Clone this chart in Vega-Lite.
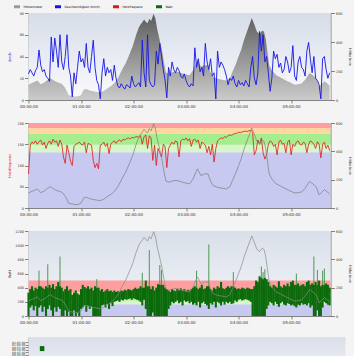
{
"$schema": "https://vega.github.io/schema/vega-lite/v6.json",
"background": "#f4f4f4",
"padding": {"left": 7.5, "top": 2, "right": 2, "bottom": 0},
"spacing": 13,
"columns": 1,
"config": {
  "view": {"stroke": null},
  "font": "DejaVu Sans",
  "axis": {"labelFontSize": 3.4, "titleFontSize": 3.5, "tickSize": 4, "labelPadding": 1, "domainColor": "#666", "tickColor": "#666", "labelColor": "#333", "titleColor": "#333", "titleFontWeight": "normal", "grid": false, "domainWidth": 0.8, "tickWidth": 0.8}
},
"datasets": {
  "ts": [
{"t":0,"s":24,"h":80,"lo":0,"hi":330},{"t":2,"s":28,"h":148,"lo":120,"hi":380},{"t":4,"s":25,"h":155,"lo":150,"hi":420},{"t":6,"s":22,"h":152,"lo":80,"hi":360},{"t":8,"s":27,"h":158,"lo":140,"hi":400},{"t":10,"s":30,"h":150,"lo":0,"hi":380},{"t":12,"s":46,"h":156,"lo":120,"hi":420,"pk":640},{"t":14,"s":32,"h":160,"lo":150,"hi":420},{"t":16,"s":26,"h":148,"lo":60,"hi":400},{"t":18,"s":28,"h":155,"lo":130,"hi":380},
{"t":20,"s":22,"h":140,"lo":0,"hi":420},{"t":22,"s":20,"h":152,"lo":100,"hi":400,"pk":730},{"t":24,"s":17,"h":158,"lo":150,"hi":440},{"t":26,"s":58,"h":150,"lo":80,"hi":400},{"t":28,"s":35,"h":162,"lo":0,"hi":450},{"t":30,"s":57,"h":155,"lo":120,"hi":380},{"t":32,"s":45,"h":158,"lo":60,"hi":420},{"t":34,"s":30,"h":145,"lo":130,"hi":480},{"t":36,"s":60,"h":160,"lo":100,"hi":420,"pk":840},{"t":38,"s":35,"h":150,"lo":0,"hi":400},
{"t":40,"s":28,"h":120,"lo":0,"hi":350},{"t":42,"s":40,"h":105,"lo":80,"hi":380},{"t":44,"s":60,"h":148,"lo":0,"hi":420},{"t":46,"s":30,"h":130,"lo":60,"hi":360},{"t":48,"s":22,"h":110,"lo":0,"hi":380},{"t":50,"s":3,"h":100,"lo":0,"hi":300},{"t":52,"s":25,"h":145,"lo":80,"hi":330},{"t":54,"s":15,"h":150,"lo":0,"hi":360},{"t":56,"s":30,"h":152,"lo":40,"hi":320},{"t":58,"s":45,"h":155,"lo":0,"hi":300},
{"t":60,"s":35,"h":150,"lo":100,"hi":380},{"t":62,"s":38,"h":148,"lo":120,"hi":440},{"t":64,"s":30,"h":155,"lo":150,"hi":410},{"t":66,"s":52,"h":130,"lo":60,"hi":390},{"t":68,"s":30,"h":152,"lo":140,"hi":420},{"t":70,"s":25,"h":150,"lo":100,"hi":380},{"t":72,"s":40,"h":148,"lo":130,"hi":400},{"t":74,"s":55,"h":112,"lo":0,"hi":360},{"t":76,"s":30,"h":95,"lo":0,"hi":420},{"t":78,"s":18,"h":105,"lo":0,"hi":400,"pk":520},
{"t":80,"s":14,"h":92,"lo":0,"hi":400},{"t":82,"s":1,"h":148,"lo":0,"hi":360},{"t":84,"s":25,"h":150,"lo":150,"hi":380},{"t":86,"s":38,"h":155,"lo":160,"hi":340},{"t":88,"s":22,"h":145,"lo":120,"hi":360},{"t":90,"s":30,"h":152,"lo":170,"hi":380},{"t":92,"s":25,"h":128,"lo":100,"hi":350},{"t":94,"s":28,"h":150,"lo":180,"hi":360},{"t":96,"s":18,"h":155,"lo":140,"hi":340},{"t":98,"s":32,"h":158,"lo":200,"hi":360},
{"t":100,"s":20,"h":152,"lo":210,"hi":340},{"t":102,"s":13,"h":158,"lo":220,"hi":350},{"t":104,"s":11,"h":160,"lo":200,"hi":340},{"t":106,"s":15,"h":156,"lo":230,"hi":360},{"t":108,"s":12,"h":162,"lo":220,"hi":350},{"t":110,"s":10,"h":160,"lo":240,"hi":370},{"t":112,"s":14,"h":163,"lo":230,"hi":360},{"t":114,"s":13,"h":165,"lo":240,"hi":380},{"t":116,"s":11,"h":162,"lo":250,"hi":370},{"t":118,"s":22,"h":166,"lo":230,"hi":360},
{"t":120,"s":15,"h":165,"lo":250,"hi":380},{"t":122,"s":12,"h":167,"lo":240,"hi":400},{"t":124,"s":14,"h":168,"lo":230,"hi":380},{"t":126,"s":16,"h":166,"lo":220,"hi":390},{"t":128,"s":12,"h":170,"lo":200,"hi":420},{"t":130,"s":55,"h":150,"lo":150,"hi":400,"pk":610},{"t":132,"s":25,"h":168,"lo":230,"hi":400},{"t":134,"s":12,"h":172,"lo":100,"hi":500},{"t":136,"s":60,"h":140,"lo":0,"hi":420},{"t":138,"s":18,"h":170,"lo":0,"hi":420,"pk":930},
{"t":140,"s":14,"h":165,"lo":0,"hi":380},{"t":142,"s":12,"h":112,"lo":50,"hi":420},{"t":144,"s":14,"h":148,"lo":0,"hi":360},{"t":146,"s":45,"h":100,"lo":0,"hi":400},{"t":148,"s":33,"h":140,"lo":0,"hi":450},{"t":150,"s":52,"h":130,"lo":0,"hi":440,"pk":720},{"t":152,"s":40,"h":120,"lo":0,"hi":440,"pk":650},{"t":154,"s":28,"h":150,"lo":0,"hi":440},{"t":156,"s":18,"h":145,"lo":0,"hi":400},{"t":158,"s":2,"h":95,"lo":0,"hi":380},
{"t":160,"s":30,"h":140,"lo":100,"hi":360},{"t":162,"s":22,"h":148,"lo":150,"hi":340},{"t":164,"s":35,"h":155,"lo":200,"hi":380},{"t":166,"s":28,"h":150,"lo":180,"hi":360},{"t":168,"s":25,"h":158,"lo":200,"hi":350},{"t":170,"s":30,"h":155,"lo":220,"hi":380},{"t":172,"s":27,"h":120,"lo":180,"hi":360},{"t":174,"s":22,"h":158,"lo":200,"hi":390},{"t":176,"s":20,"h":162,"lo":150,"hi":360},{"t":178,"s":24,"h":160,"lo":220,"hi":380},
{"t":180,"s":18,"h":165,"lo":200,"hi":350},{"t":182,"s":14,"h":158,"lo":210,"hi":370},{"t":184,"s":12,"h":163,"lo":180,"hi":360},{"t":186,"s":15,"h":145,"lo":200,"hi":380},{"t":188,"s":13,"h":160,"lo":160,"hi":400},{"t":190,"s":48,"h":162,"lo":180,"hi":420},{"t":192,"s":30,"h":155,"lo":150,"hi":400,"pk":640},{"t":194,"s":38,"h":160,"lo":200,"hi":380},{"t":196,"s":26,"h":140,"lo":120,"hi":400},{"t":198,"s":30,"h":155,"lo":180,"hi":440},
{"t":200,"s":22,"h":152,"lo":200,"hi":380},{"t":202,"s":52,"h":148,"lo":170,"hi":390},{"t":204,"s":35,"h":130,"lo":150,"hi":420},{"t":206,"s":28,"h":145,"lo":100,"hi":420,"pk":1010},{"t":208,"s":38,"h":125,"lo":180,"hi":380},{"t":210,"s":22,"h":150,"lo":160,"hi":360},{"t":212,"s":25,"h":108,"lo":200,"hi":400},{"t":214,"s":1,"h":140,"lo":120,"hi":380},{"t":216,"s":45,"h":158,"lo":200,"hi":420},{"t":218,"s":30,"h":162,"lo":180,"hi":400},
{"t":220,"s":35,"h":165,"lo":150,"hi":480},{"t":222,"s":32,"h":163,"lo":200,"hi":390},{"t":224,"s":28,"h":168,"lo":160,"hi":380},{"t":226,"s":22,"h":166,"lo":200,"hi":400},{"t":228,"s":14,"h":170,"lo":180,"hi":420},{"t":230,"s":20,"h":172,"lo":200,"hi":400},{"t":232,"s":18,"h":171,"lo":170,"hi":420},{"t":234,"s":22,"h":174,"lo":180,"hi":420,"pk":620},{"t":236,"s":15,"h":175,"lo":220,"hi":400},{"t":238,"s":12,"h":176,"lo":200,"hi":380},
{"t":240,"s":18,"h":178,"lo":230,"hi":390},{"t":242,"s":14,"h":177,"lo":240,"hi":380},{"t":244,"s":16,"h":179,"lo":220,"hi":400},{"t":246,"s":13,"h":180,"lo":230,"hi":390},{"t":248,"s":18,"h":181,"lo":240,"hi":380},{"t":250,"s":15,"h":180,"lo":230,"hi":400},{"t":252,"s":12,"h":182,"lo":220,"hi":390},{"t":254,"s":30,"h":183,"lo":200,"hi":380},{"t":256,"s":40,"h":178,"lo":0,"hi":380},{"t":258,"s":20,"h":125,"lo":0,"hi":420},
{"t":260,"s":14,"h":135,"lo":0,"hi":500},{"t":262,"s":25,"h":160,"lo":0,"hi":480},{"t":264,"s":63,"h":150,"lo":0,"hi":560},{"t":266,"s":45,"h":165,"lo":0,"hi":540,"pk":700},{"t":268,"s":60,"h":130,"lo":0,"hi":520,"pk":620},{"t":270,"s":35,"h":115,"lo":0,"hi":540,"pk":660},{"t":272,"s":40,"h":125,"lo":100,"hi":520},{"t":274,"s":25,"h":150,"lo":150,"hi":480},{"t":276,"s":8,"h":158,"lo":200,"hi":420},{"t":278,"s":20,"h":155,"lo":180,"hi":400},
{"t":280,"s":45,"h":145,"lo":150,"hi":440},{"t":282,"s":38,"h":150,"lo":200,"hi":420},{"t":284,"s":42,"h":125,"lo":170,"hi":400},{"t":286,"s":30,"h":155,"lo":130,"hi":490},{"t":288,"s":34,"h":160,"lo":180,"hi":420},{"t":290,"s":25,"h":150,"lo":200,"hi":400},{"t":292,"s":28,"h":152,"lo":160,"hi":440},{"t":294,"s":40,"h":130,"lo":150,"hi":420},{"t":296,"s":35,"h":155,"lo":180,"hi":460},{"t":298,"s":25,"h":160,"lo":170,"hi":420},
{"t":300,"s":30,"h":125,"lo":150,"hi":480},{"t":302,"s":50,"h":150,"lo":160,"hi":500},{"t":304,"s":22,"h":145,"lo":140,"hi":440},{"t":306,"s":18,"h":155,"lo":120,"hi":440,"pk":600},{"t":308,"s":35,"h":158,"lo":160,"hi":460},{"t":310,"s":40,"h":150,"lo":150,"hi":420},{"t":312,"s":30,"h":148,"lo":180,"hi":440},{"t":314,"s":28,"h":155,"lo":160,"hi":450},{"t":316,"s":22,"h":152,"lo":170,"hi":420},{"t":318,"s":45,"h":130,"lo":150,"hi":480},
{"t":320,"s":53,"h":150,"lo":180,"hi":500},{"t":322,"s":38,"h":158,"lo":120,"hi":440},{"t":324,"s":25,"h":155,"lo":150,"hi":460},{"t":326,"s":40,"h":150,"lo":0,"hi":440,"pk":840},{"t":328,"s":20,"h":140,"lo":0,"hi":480},{"t":330,"s":18,"h":156,"lo":80,"hi":440,"pk":650},{"t":332,"s":14,"h":150,"lo":0,"hi":500},{"t":334,"s":1,"h":118,"lo":0,"hi":420},{"t":336,"s":38,"h":150,"lo":120,"hi":440,"pk":640},{"t":338,"s":40,"h":155,"lo":200,"hi":440,"pk":670},
{"t":340,"s":28,"h":140,"lo":180,"hi":460},{"t":342,"s":20,"h":148,"lo":160,"hi":440},{"t":344,"s":25,"h":135,"lo":150,"hi":400}
  ],
  "alt": [
{"t":0,"a":106},{"t":4,"a":118},{"t":8,"a":128},{"t":10,"a":135},{"t":14,"a":108},{"t":18,"a":120},{"t":22,"a":140},{"t":25,"a":151},{"t":28,"a":138},{"t":31,"a":127},{"t":35,"a":118},{"t":38,"a":112},{"t":42,"a":83},{"t":46,"a":33},{"t":50,"a":28},{"t":54,"a":24},{"t":57,"a":26},{"t":60,"a":35},{"t":63,"a":70},{"t":66,"a":76},{"t":70,"a":66},{"t":74,"a":60},{"t":78,"a":56},{"t":82,"a":52},{"t":86,"a":62},{"t":90,"a":80},{"t":95,"a":100},{"t":99,"a":123},{"t":103,"a":160},{"t":107,"a":210},{"t":111,"a":253},{"t":115,"a":310},{"t":119,"a":370},{"t":123,"a":450},{"t":126,"a":500},{"t":128,"a":520},{"t":130,"a":536},{"t":132,"a":555},{"t":134,"a":540},{"t":136,"a":530},{"t":138,"a":560},{"t":140,"a":545},{"t":143,"a":595},{"t":145,"a":560},{"t":147,"a":489},{"t":150,"a":410},{"t":153,"a":324},{"t":155,"a":250},{"t":157,"a":190},{"t":161,"a":182},{"t":166,"a":194},{"t":170,"a":194},{"t":176,"a":182},{"t":180,"a":176},{"t":184,"a":170},{"t":188,"a":205},{"t":191,"a":250},{"t":193,"a":276},{"t":197,"a":229},{"t":201,"a":240},{"t":205,"a":241},{"t":208,"a":190},{"t":211,"a":158},{"t":216,"a":146},{"t":221,"a":140},{"t":226,"a":135},{"t":230,"a":150},{"t":233,"a":194},{"t":237,"a":250},{"t":240,"a":300},{"t":243,"a":347},{"t":246,"a":410},{"t":250,"a":480},{"t":253,"a":530},{"t":255,"a":565},{"t":258,"a":520},{"t":261,"a":470},{"t":264,"a":455},{"t":267,"a":480},{"t":269,"a":470},{"t":271,"a":420},{"t":273,"a":330},{"t":275,"a":240},{"t":278,"a":205},{"t":283,"a":170},{"t":288,"a":155},{"t":294,"a":135},{"t":299,"a":120},{"t":304,"a":106},{"t":308,"a":108},{"t":312,"a":113},{"t":316,"a":140},{"t":321,"a":187},{"t":325,"a":170},{"t":329,"a":146},{"t":332,"a":92},{"t":335,"a":110},{"t":338,"a":130},{"t":341,"a":115},{"t":344,"a":99}
  ],
  "hrz": [{"z":"Z1","lo":0,"hi":131},{"z":"Z2","lo":131,"hi":149},{"z":"Z3","lo":149,"hi":175},{"z":"Z4","lo":175,"hi":188},{"z":"Z5","lo":188,"hi":200}],
  "wz": [{"z":"Z1","lo":0,"hi":165},{"z":"Z2","lo":165,"hi":220},{"z":"Z3","lo":220,"hi":280},{"z":"Z4","lo":280,"hi":340},{"z":"Z5","lo":340,"hi":500}],
  "bars": [{"k":2.5,"k2":3.5,"m":52}]
},
"concat": [
  {
    "width": 302, "height": 87,
    "layer": [
      {"data": {"values": [{}]}, "mark": {"type": "rect", "color": {"gradient": "linear", "x1": 0, "y1": 0, "x2": 0, "y2": 1, "stops": [{"offset": 0, "color": "#d6dce8"}, {"offset": 1, "color": "#fbfbfd"}]}}, "encoding": {}},
      {"data": {"name": "alt"}, "mark": {"type": "area", "color": {"gradient": "linear", "x1": 0, "y1": 0, "x2": 0, "y2": 1, "stops": [{"offset": 0, "color": "#5c5c5c"}, {"offset": 1, "color": "#cbcbcb"}]}},
       "encoding": {
         "x": {"field": "t", "type": "quantitative", "scale": {"domain": [0, 345], "nice": false}, "axis": {"values": [0, 60, 120, 180, 240, 300], "labelExpr": "'0' + (datum.value/60) + ':00:00'", "title": null, "labelFontSize": 4, "tickSize": 3, "labelPadding": 1, "labelFlush": false}},
         "y": {"field": "a", "type": "quantitative", "scale": {"domain": [0, 600], "nice": false}, "axis": {"orient": "right", "values": [0, 200, 400, 600], "title": "Höhe in m", "titleAngle": 90, "minExtent": 14, "maxExtent": 14, "titlePadding": 3}}
       }},
      {"data": {"name": "ts"}, "mark": {"type": "line", "strokeWidth": 0.9},
       "encoding": {
         "x": {"field": "t", "type": "quantitative", "scale": {"domain": [0, 345], "nice": false}, "axis": {"values": [0, 60, 120, 180, 240, 300], "labelExpr": "'0' + (datum.value/60) + ':00:00'", "title": null, "labelFontSize": 4, "tickSize": 3, "labelPadding": 1, "labelFlush": false}},
         "y": {"field": "s", "type": "quantitative", "scale": {"domain": [0, 80], "nice": false}, "axis": {"values": [0, 20, 40, 60, 80], "title": "km/h", "titleColor": "#2b2bd6", "minExtent": 15, "maxExtent": 15, "titlePadding": 2}},
         "color": {"datum": "Geschwindigkeit (km/h)", "type": "nominal", "scale": {"domain": ["Höhenmeter", "Geschwindigkeit (km/h)", "Herzfrequenz", "Watt"], "range": ["#9a9a9a", "#1414e6", "#e01818", "#0b6b0b"]}, "legend": {"title": null, "orient": "none", "legendX": -16, "legendY": -11, "direction": "horizontal", "symbolType": "stroke", "symbolStrokeWidth": 3, "symbolSize": 36, "labelFontSize": 3, "columnPadding": 6, "labelOffset": 2}}
       }}
    ],
    "resolve": {"scale": {"y": "independent"}}
  },
  {
    "width": 302, "height": 85,
    "layer": [
      {"data": {"name": "hrz"}, "mark": {"type": "rect"},
       "encoding": {
         "y": {"field": "lo", "type": "quantitative", "scale": {"domain": [0, 200], "nice": false}, "axis": null},
         "y2": {"field": "hi"},
         "fill": {"field": "z", "type": "nominal", "scale": {"domain": ["Z1", "Z2", "Z3", "Z4", "Z5"], "range": ["#c7c9f1", "#d7f6ca", "#a4ee8e", "#ffd5a4", "#ff9e9e"]}, "legend": null}
       }},
      {"data": {"name": "ts"}, "mark": {"type": "line", "strokeWidth": 0.8},
       "encoding": {
         "x": {"field": "t", "type": "quantitative", "scale": {"domain": [0, 345], "nice": false}, "axis": {"values": [0, 60, 120, 180, 240, 300], "labelExpr": "'0' + (datum.value/60) + ':00:00'", "title": null, "labelFontSize": 4, "tickSize": 3, "labelPadding": 1, "labelFlush": false}},
         "y": {"field": "h", "type": "quantitative", "scale": {"domain": [0, 200], "nice": false}, "axis": {"values": [0, 50, 100, 150, 200], "title": "Herzfrequenz", "titleColor": "#e02020", "minExtent": 15, "maxExtent": 15, "titlePadding": 2}},
         "color": {"datum": "Herzfrequenz", "type": "nominal", "scale": {"domain": ["Höhenmeter", "Geschwindigkeit (km/h)", "Herzfrequenz", "Watt"], "range": ["#9a9a9a", "#1414e6", "#e01818", "#0b6b0b"]}, "legend": {"title": null, "orient": "none", "legendX": -16, "legendY": -11, "direction": "horizontal", "symbolType": "stroke", "symbolStrokeWidth": 3, "symbolSize": 36, "labelFontSize": 3, "columnPadding": 6, "labelOffset": 2}}
       }},
      {"data": {"name": "alt"}, "mark": {"type": "line", "strokeWidth": 0.7, "color": "#7d7d7d"},
       "encoding": {
         "x": {"field": "t", "type": "quantitative", "scale": {"domain": [0, 345], "nice": false}, "axis": {"values": [0, 60, 120, 180, 240, 300], "labelExpr": "'0' + (datum.value/60) + ':00:00'", "title": null, "labelFontSize": 4, "tickSize": 3, "labelPadding": 1, "labelFlush": false}},
         "y": {"field": "a", "type": "quantitative", "scale": {"domain": [0, 600], "nice": false}, "axis": {"orient": "right", "values": [0, 200, 400, 600], "title": "Höhe in m", "titleAngle": 90, "minExtent": 14, "maxExtent": 14, "titlePadding": 3}}
       }}
    ],
    "resolve": {"scale": {"y": "independent"}}
  },
  {
    "width": 302, "height": 85,
    "layer": [
      {"data": {"values": [{}]}, "mark": {"type": "rect", "color": {"gradient": "linear", "x1": 0, "y1": 0, "x2": 0, "y2": 1, "stops": [{"offset": 0, "color": "#d9dfea"}, {"offset": 1, "color": "#f4f5f8"}]}}, "encoding": {}},
      {"data": {"name": "wz"}, "mark": {"type": "rect"},
       "encoding": {
         "y": {"field": "lo", "type": "quantitative", "scale": {"domain": [0, 1200], "nice": false}, "axis": null},
         "y2": {"field": "hi"},
         "fill": {"field": "z", "type": "nominal", "scale": {"domain": ["Z1", "Z2", "Z3", "Z4", "Z5"], "range": ["#c7c9f1", "#d7f6ca", "#a4ee8e", "#ffd5a4", "#ff9e9e"]}, "legend": null}
       }},
      {"data": {"name": "ts"}, "transform": [{"filter": "datum.pk > 0"}], "mark": {"type": "rule", "strokeWidth": 0.9, "color": "#3f8f3f"},
       "encoding": {
         "x": {"field": "t", "type": "quantitative", "scale": {"domain": [0, 345], "nice": false}, "axis": {"values": [0, 60, 120, 180, 240, 300], "labelExpr": "'0' + (datum.value/60) + ':00:00'", "title": null, "labelFontSize": 4, "tickSize": 3, "labelPadding": 1, "labelFlush": false}},
         "y": {"field": "hi", "type": "quantitative", "scale": {"domain": [0, 1200], "nice": false}, "axis": null},
         "y2": {"field": "pk"}
       }},
      {"data": {"name": "ts"}, "mark": {"type": "rule", "strokeWidth": 2.1},
       "encoding": {
         "x": {"field": "t", "type": "quantitative", "scale": {"domain": [0, 345], "nice": false}, "axis": {"values": [0, 60, 120, 180, 240, 300], "labelExpr": "'0' + (datum.value/60) + ':00:00'", "title": null, "labelFontSize": 4, "tickSize": 3, "labelPadding": 1, "labelFlush": false}},
         "y": {"field": "lo", "type": "quantitative", "scale": {"domain": [0, 1200], "nice": false}, "axis": {"values": [0, 200, 400, 600, 800, 1000, 1200], "format": "d", "title": "Watt", "minExtent": 15, "maxExtent": 15, "titlePadding": 2}},
         "y2": {"field": "hi"},
         "color": {"datum": "Watt", "type": "nominal", "scale": {"domain": ["Höhenmeter", "Geschwindigkeit (km/h)", "Herzfrequenz", "Watt"], "range": ["#9a9a9a", "#1414e6", "#e01818", "#0b6b0b"]}, "legend": {"title": null, "orient": "none", "legendX": -16, "legendY": -11, "direction": "horizontal", "symbolType": "stroke", "symbolStrokeWidth": 3, "symbolSize": 36, "labelFontSize": 3, "columnPadding": 6, "labelOffset": 2}}
       }},
      {"data": {"name": "alt"}, "mark": {"type": "line", "strokeWidth": 0.7, "color": "#8a8a8a"},
       "encoding": {
         "x": {"field": "t", "type": "quantitative", "scale": {"domain": [0, 345], "nice": false}, "axis": {"values": [0, 60, 120, 180, 240, 300], "labelExpr": "'0' + (datum.value/60) + ':00:00'", "title": null, "labelFontSize": 4, "tickSize": 3, "labelPadding": 1, "labelFlush": false}},
         "y": {"field": "a", "type": "quantitative", "scale": {"domain": [0, 600], "nice": false}, "axis": {"orient": "right", "values": [0, 200, 400, 600], "title": "Höhe in m", "titleAngle": 90, "minExtent": 14, "maxExtent": 14, "titlePadding": 3}}
       }}
    ],
    "resolve": {"scale": {"y": "independent"}}
  },
  {
    "width": 317, "height": 43,
    "layer": [
      {"data": {"values": [{}]}, "mark": {"type": "rect", "color": {"gradient": "linear", "x1": 0, "y1": 0, "x2": 0, "y2": 1, "stops": [{"offset": 0, "color": "#d9dfea"}, {"offset": 1, "color": "#f4f5f8"}]}}, "encoding": {}},
      {"data": {"name": "bars"}, "mark": {"type": "bar", "color": "#0b6b0b"},
       "encoding": {
         "x": {"field": "k", "type": "quantitative", "scale": {"domain": [0, 70], "nice": false}, "axis": null},
         "x2": {"field": "k2"},
         "y": {"field": "m", "type": "quantitative", "scale": {"domain": [0, 65], "nice": false}, "axis": {"values": [0, 5, 10, 15, 20, 25, 30, 35, 40, 45, 50, 55, 60, 65], "labelExpr": "(datum.value < 60 ? '00:' : '01:') + (datum.value % 60 < 10 ? '0' : '') + (datum.value % 60) + ':00'", "labelOverlap": false, "labelFontSize": 3, "tickSize": 3, "labelPadding": 0.5, "title": "Zeit", "minExtent": 17, "maxExtent": 17, "titlePadding": 0}}
       }}
    ]
  }
]
}
